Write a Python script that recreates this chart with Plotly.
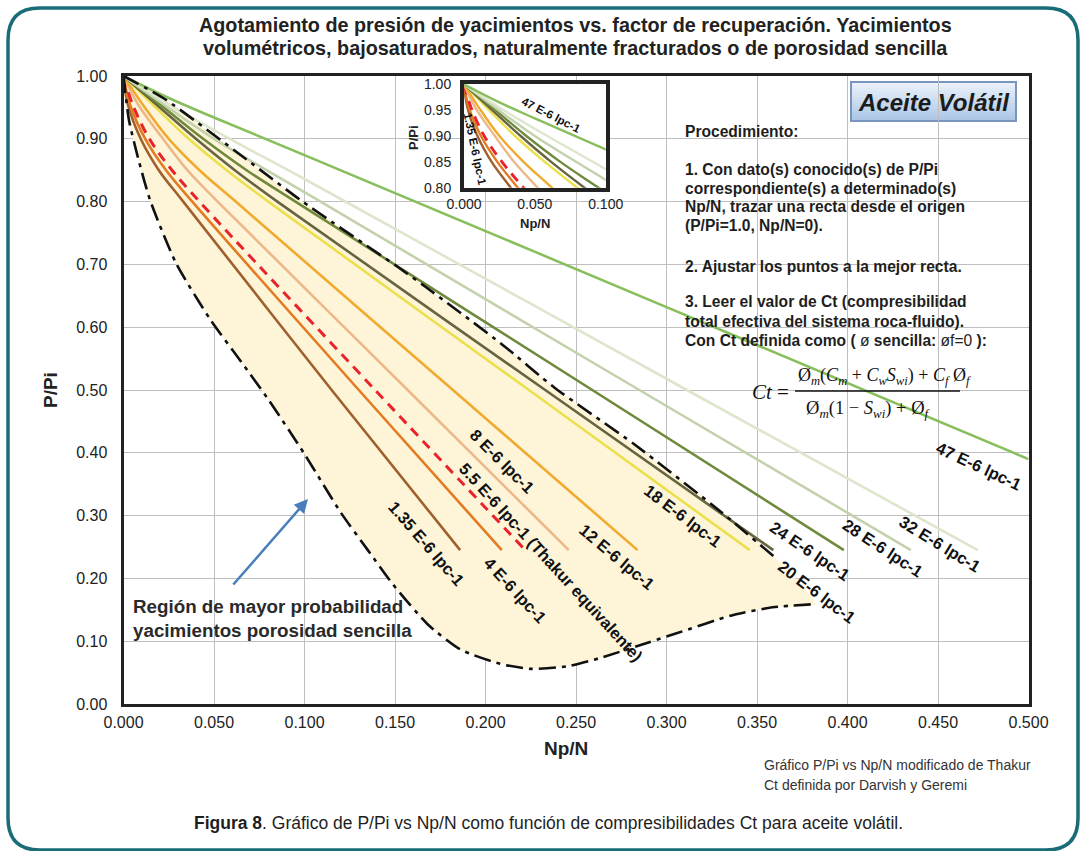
import plotly.graph_objects as go

W, H = 1086, 851

# ---- P/Pi vs Np/N curves for each total compressibility Ct (1E-6 psi^-1) ----
ct_names = ["1.35 E-6 lpc-1", "4 E-6 lpc-1", "5.5 E-6 lpc-1", "8 E-6 lpc-1",
            "12 E-6 lpc-1", "18 E-6 lpc-1", "20 E-6 lpc-1", "24 E-6 lpc-1",
            "28 E-6 lpc-1", "32 E-6 lpc-1", "47 E-6 lpc-1"]

pr_std = [1.0, 0.955, 0.900, 0.850, 0.800, 0.500, 0.245]

np_ct135 = [0.0, 0.0024, 0.0095, 0.0195, 0.033, 0.115, 0.186]
np_ct4 = [0.0, 0.0035, 0.0120, 0.0235, 0.038, 0.130, 0.209]
np_ct55 = [0.0, 0.0050, 0.0143, 0.0268, 0.042, 0.139, 0.222]
np_ct8 = [0.0, 0.0080, 0.0218, 0.0353, 0.052, 0.157, 0.246]
np_ct12 = [0.0, 0.0105, 0.0250, 0.0420, 0.062, 0.182, 0.284]
np_ct18 = [0.0, 0.0160, 0.0360, 0.0570, 0.080, 0.224, 0.346]
np_ct20 = [0.0, 0.0180, 0.0400, 0.0615, 0.085, 0.233, 0.359]
np_ct24 = [0.0, 0.0200, 0.0440, 0.0680, 0.095, 0.259, 0.398]

np_ct28 = [0.0, 0.022, 0.050, 0.100, 0.285, 0.435]
pr_ct28 = [1.0, 0.955, 0.900, 0.815, 0.500, 0.245]

np_ct32 = [0.0, 0.025, 0.060, 0.100, 0.310, 0.472]
pr_ct32 = [1.0, 0.955, 0.898, 0.836, 0.502, 0.245]

np_ct47 = [0.0, 0.025, 0.050, 0.100, 0.300, 0.500]
pr_ct47 = [1.0, 0.965, 0.934, 0.874, 0.632, 0.390]

# ---- envelope of the most probable single-porosity region ----
upper_np = [0.0, 0.023, 0.068, 0.0975, 0.116, 0.151, 0.167, 0.209, 0.238, 0.282, 0.3305, 0.3605]
upper_pr = [1.0, 0.963, 0.867, 0.803, 0.766, 0.697, 0.664, 0.573, 0.504, 0.414, 0.305, 0.232]

lower_np = [0.0, 0.003, 0.008, 0.0146, 0.029, 0.048, 0.065, 0.080, 0.100, 0.120, 0.135,
            0.149, 0.168, 0.186, 0.208, 0.225, 0.245, 0.263, 0.290, 0.306, 0.336, 0.3586, 0.382]
lower_pr = [1.0, 0.930, 0.870, 0.803, 0.702, 0.612, 0.545, 0.485, 0.398, 0.305, 0.245,
            0.190, 0.127, 0.087, 0.064, 0.056, 0.060, 0.073, 0.098, 0.113, 0.141, 0.154, 0.159]

x_ticks = [0.0, 0.05, 0.10, 0.15, 0.20, 0.25, 0.30, 0.35, 0.40, 0.45, 0.50]
y_ticks = [0.0, 0.1, 0.2, 0.3, 0.4, 0.5, 0.6, 0.7, 0.8, 0.9, 1.0]

series = [
    (np_ct135, pr_std, "#A0602E", None),
    (np_ct4, pr_std, "#E37B22", None),
    (np_ct55, pr_std, "#E8232B", "10px,7px"),
    (np_ct8, pr_std, "#EDB888", None),
    (np_ct12, pr_std, "#F0AA2E", None),
    (np_ct18, pr_std, "#EBE04B", None),
    (np_ct20, pr_std, "#66653F", None),
    (np_ct24, pr_std, "#6F8A3C", None),
    (np_ct28, pr_ct28, "#C3D2AC", None),
    (np_ct32, pr_ct32, "#DDE6CD", None),
    (np_ct47, pr_ct47, "#88BF5C", None),
]

FONT = "Liberation Sans, Arial, sans-serif"
SERIF = "Liberation Serif, Times New Roman, serif"
INK = "#222222"


def X(p):
    return p / W


def Y(p):
    return 1 - p / H


fig = go.Figure()

# shaded region
fig.add_trace(go.Scatter(
    x=upper_np + lower_np[::-1], y=upper_pr + lower_pr[::-1],
    mode="lines", fill="toself", fillcolor="#FEF5D9",
    line=dict(width=0, shape="spline", smoothing=0.6),
    hoverinfo="skip", xaxis="x", yaxis="y"))

# Ct curves on main axes and the zoomed inset
for (xs, ys, col, dash), name in zip(series, ct_names):
    for xa, ya, w in (("x", "y", 2.6), ("x2", "y2", 2.4)):
        fig.add_trace(go.Scatter(
            x=xs, y=ys, mode="lines", name=name,
            line=dict(color=col, width=w + (0.4 if dash else 0), dash=dash or "solid",
                      shape="spline", smoothing=1.0),
            xaxis=xa, yaxis=ya, hoverinfo="skip"))

# envelope boundaries
for bx, by in ((upper_np, upper_pr), (lower_np, lower_pr)):
    fig.add_trace(go.Scatter(
        x=bx, y=by, mode="lines",
        line=dict(color="#111111", width=2.6, dash="17px,6px,4px,6px",
                  shape="spline", smoothing=0.6),
        xaxis="x", yaxis="y", hoverinfo="skip"))

# ---- axes ----
main_x0, main_x1, main_y0, main_y1 = 123.5, 1028.5, 704, 76
ins_x0, ins_x1, ins_y0, ins_y1 = 464, 605.7, 187.7, 84.3

fig.update_layout(
    width=W, height=H, margin=dict(l=0, r=0, t=0, b=0),
    paper_bgcolor="white", plot_bgcolor="white", showlegend=False,
    font=dict(family=FONT, color=INK),
    xaxis=dict(domain=[X(main_x0), X(main_x1)], range=[0, 0.5], tickvals=x_ticks,
               tickformat=".3f", showgrid=True, gridcolor="#BEBEBE", gridwidth=1,
               showline=True, linecolor=INK, linewidth=3, mirror=True, zeroline=False,
               ticks="", tickfont=dict(size=16, color=INK), automargin=False,
               ticklabelstandoff=2, anchor="y"),
    yaxis=dict(domain=[Y(main_y0), Y(main_y1)], range=[0, 1], tickvals=y_ticks,
               tickformat=".2f", showgrid=True, gridcolor="#BEBEBE", gridwidth=1,
               showline=True, linecolor=INK, linewidth=3, mirror=True, zeroline=False,
               ticks="", tickfont=dict(size=16, color=INK), automargin=False,
               ticklabelstandoff=10, anchor="x"),
    xaxis2=dict(domain=[X(ins_x0), X(ins_x1)], range=[0, 0.1], tickvals=[0, 0.05, 0.1],
                tickformat=".3f", showgrid=False, showline=True, linecolor=INK,
                linewidth=4, mirror=True, zeroline=False, ticks="",
                tickfont=dict(size=14, color=INK), automargin=False, anchor="y2"),
    yaxis2=dict(domain=[Y(ins_y0), Y(ins_y1)], range=[0.8, 1.0],
                tickvals=[0.80, 0.85, 0.90, 0.95, 1.00], tickformat=".2f",
                showgrid=False, showline=True, linecolor=INK, linewidth=4, mirror=True,
                zeroline=False, ticks="", tickfont=dict(size=14, color=INK),
                automargin=False, ticklabelstandoff=6, anchor="x2"),
)

shapes = []
# white backing of the inset (drawn in the inset subplot, above the main grid)
shapes.append(dict(type="rect", xref="x2 domain", yref="y2 domain", layer="below",
                   x0=0, x1=1, y0=0, y1=1, fillcolor="white", line=dict(width=0)))

# "Aceite Volatil" badge with a vertical gradient
bx0, bx1, by0, by1 = 851, 1016, 82, 121
top_rgb, bot_rgb = (234, 241, 250), (172, 199, 230)
n_strips = 13
for i in range(n_strips):
    t = i / (n_strips - 1)
    c = tuple(int(round(a + (b - a) * t)) for a, b in zip(top_rgb, bot_rgb))
    ya = by0 + (by1 - by0) * i / n_strips
    yb = by0 + (by1 - by0) * (i + 1) / n_strips
    shapes.append(dict(type="rect", xref="paper", yref="paper", layer="below",
                       x0=X(bx0), x1=X(bx1), y0=Y(yb), y1=Y(ya),
                       fillcolor="rgb(%d,%d,%d)" % c, line=dict(width=0)))
shapes.append(dict(type="rect", xref="paper", yref="paper", layer="below",
                   x0=X(bx0), x1=X(bx1), y0=Y(by1), y1=Y(by0),
                   line=dict(color="#7895BD", width=2)))

# fraction bar of the Ct formula
shapes.append(dict(type="line", xref="paper", yref="paper", x0=X(795), x1=X(960),
                   y0=Y(391), y1=Y(391), line=dict(color="#111111", width=1.3)))

# rounded frame around the figure
fx0, fy0, fx1, fy1, r = 8, 8, 1078, 850, 32
frame = (f"M {X(fx0 + r)},{Y(fy0)} L {X(fx1 - r)},{Y(fy0)} "
         f"Q {X(fx1)},{Y(fy0)} {X(fx1)},{Y(fy0 + r)} L {X(fx1)},{Y(fy1 - r)} "
         f"Q {X(fx1)},{Y(fy1)} {X(fx1 - r)},{Y(fy1)} L {X(fx0 + r)},{Y(fy1)} "
         f"Q {X(fx0)},{Y(fy1)} {X(fx0)},{Y(fy1 - r)} L {X(fx0)},{Y(fy0 + r)} "
         f"Q {X(fx0)},{Y(fy0)} {X(fx0 + r)},{Y(fy0)} Z")
shapes.append(dict(type="path", xref="paper", yref="paper", path=frame,
                   line=dict(color="#1A6C78", width=3.5)))

fig.update_layout(shapes=shapes)

ann = []


def txt(text, x, y, size, angle=0, color=INK, anchor="center", family=FONT):
    ann.append(dict(text=text, x=X(x), y=Y(y), xref="paper", yref="paper",
                    showarrow=False, textangle=angle, xanchor=anchor, yanchor="middle",
                    font=dict(size=size, color=color, family=family)))


# title
txt("<b>Agotamiento de presión de yacimientos vs. factor de recuperación. Yacimientos</b>",
    575, 25, 19.8)
txt("<b>volumétricos, bajosaturados, naturalmente fracturados o de porosidad sencilla</b>",
    575, 48, 19.8)

# axis titles
txt("<b>P/Pi</b>", 50, 390, 19, angle=-90)
txt("<b>Np/N</b>", 566, 748, 19)
txt("<b>P/Pi</b>", 413, 137, 13, angle=-90)
txt("<b>Np/N</b>", 535, 223, 13)

# badge
txt("<b><i>Aceite Volátil</i></b>", 934, 102, 24, color="#1B1B1B")

# procedure
proc = [
    (131, "<b>Procedimiento:</b>"),
    (169, "<b>1. Con dato(s) conocido(s) de P/Pi</b>"),
    (188, "<b>correspondiente(s) a determinado(s)</b>"),
    (207, "<b>Np/N, trazar una recta desde el origen</b>"),
    (226, "<b>(P/Pi=1.0, Np/N=0).</b>"),
    (266, "<b>2. Ajustar los puntos a la mejor recta.</b>"),
    (302, "<b>3. Leer el valor de Ct (compresibilidad</b>"),
    (321, "<b>total efectiva del sistema roca-fluido).</b>"),
    (340, "<b>Con Ct definida como (</b> ø <b>sencilla:</b> øf=0 <b>):</b>"),
]
for yy, line in proc:
    txt(line, 683, yy, 15.6, anchor="left", color="#1E1E1E")

# Ct formula
txt("<i>Ct</i> =", 770, 392, 21, family=SERIF, color="#111111")
txt("Ø<sub><i>m</i></sub>(<i>C</i><sub><i>m</i></sub> + <i>C</i><sub><i>w</i></sub>"
    "<i>S</i><sub><i>wi</i></sub>) + <i>C</i><sub><i>f</i></sub> Ø<sub><i>f</i></sub>",
    796, 377, 18, family=SERIF, color="#111111", anchor="left")
txt("Ø<sub><i>m</i></sub>(1 − <i>S</i><sub><i>wi</i></sub>) + Ø<sub><i>f</i></sub>",
    868, 409, 18.5, family=SERIF, color="#111111")

# curve labels
lab = [
    ("1.35 E-6 lpc-1", 426, 543, 49),
    ("4 E-6 lpc-1", 515, 590, 47),
    ("5.5 E-6 lpc-1 (Thakur equivalente)", 551, 562, 47.5),
    ("8 E-6 lpc-1", 502, 461, 45),
    ("12 E-6 lpc-1", 617, 557, 40),
    ("18 E-6 lpc-1", 683, 516, 37),
    ("20 E-6 lpc-1", 817, 592, 37),
    ("24 E-6 lpc-1", 810, 551, 34),
    ("28 E-6 lpc-1", 883, 548, 33),
    ("32 E-6 lpc-1", 940, 544, 31.5),
    ("47 E-6 lpc-1", 979, 466, 25),
]
for t, x, y, a in lab:
    txt("<b>%s</b>" % t, x, y, 16.5, angle=a, color="#111111")

txt("<b>47 E-6 lpc-1</b>", 551, 115, 11.5, angle=27, color="#111111")
txt("<b>1.35 E-6 lpc-1</b>", 475, 149, 11.5, angle=78, color="#111111")

# region note and arrow
txt("<b>Región de mayor probabilidad</b>", 131, 606, 18.8, anchor="left", color="#2A2A2A")
txt("<b>yacimientos porosidad sencilla</b>", 131, 630, 18.8, anchor="left", color="#2A2A2A")
ann.append(dict(x=X(308), y=Y(499), xref="paper", yref="paper", text="",
                showarrow=True, ax=232 - 308, ay=586 - 499, axref="pixel", ayref="pixel",
                arrowhead=2, arrowsize=1.1, arrowwidth=2.5, arrowcolor="#4A7EBB"))

# source notes and caption
txt("Gráfico P/Pi vs Np/N modificado de Thakur", 762, 765, 14, anchor="left", color="#333333")
txt("Ct definida por Darvish y Geremi", 762, 785, 14, anchor="left", color="#333333")
txt("<b>Figura 8</b>. Gráfico de P/Pi vs Np/N como función de compresibilidades Ct para aceite volátil.",
    548, 823, 17.5, color="#1E1E1E")

fig.update_layout(annotations=ann)

fig.write_html("out.html")
